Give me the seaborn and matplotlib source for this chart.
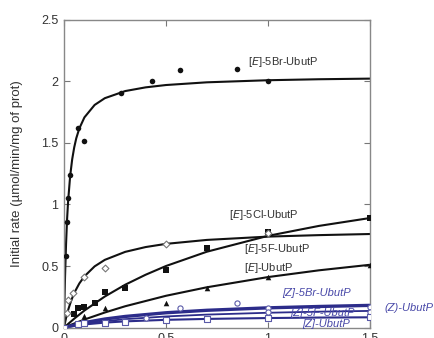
import numpy as np
import pandas as pd
import matplotlib.pyplot as plt
import seaborn as sns

# measured points (substrate conc, initial rate)
br_x = [0, 0.008, 0.015, 0.02, 0.03, 0.07, 0.1, 0.28, 0.43, 0.57, 0.85, 1.0]
br_y = [0, 0.58, 0.86, 1.05, 1.24, 1.62, 1.52, 1.91, 2.0, 2.09, 2.1, 2.0]
cl_x = [0, 0.05, 0.07, 0.1, 0.15, 0.2, 0.3, 0.5, 0.7, 1.0, 1.5]
cl_y = [0, 0.11, 0.16, 0.17, 0.2, 0.29, 0.32, 0.47, 0.65, 0.78, 0.89]
f_x = [0, 0.015, 0.02, 0.045, 0.1, 0.2, 0.5, 1.0]
f_y = [0, 0.12, 0.22, 0.28, 0.41, 0.48, 0.68, 0.77]
e_x = [0, 0.1, 0.2, 0.5, 0.7, 1.0, 1.5]
e_y = [0, 0.09, 0.16, 0.2, 0.32, 0.41, 0.51]
zbr_x = [0, 0.57, 0.85, 1.0, 1.5]
zbr_y = [0, 0.16, 0.2, 0.16, 0.17]
zf_x = [0, 0.4, 1.0, 1.5]
zf_y = [0, 0.08, 0.13, 0.13]
z_x = [0, 0.07, 0.1, 0.2, 0.3, 0.5, 0.7, 1.0, 1.5]
z_y = [0, 0.03, 0.035, 0.04, 0.045, 0.06, 0.07, 0.08, 0.085]

# fitted curves
br_cx = [0, 0.0025, 0.005, 0.01, 0.015, 0.02, 0.03, 0.04, 0.05, 0.06, 0.075, 0.1, 0.15, 0.2, 0.3, 0.4, 0.5, 0.7, 1.0, 1.25, 1.5]
br_cy = [0, 0.23, 0.41, 0.68, 0.88, 1.025, 1.23, 1.367, 1.464, 1.538, 1.618, 1.708, 1.809, 1.864, 1.922, 1.952, 1.971, 1.993, 2.01, 2.018, 2.023]
cl_cx = [0, 0.05, 0.1, 0.2, 0.3, 0.4, 0.5, 0.7, 1.0, 1.25, 1.5]
cl_cy = [0, 0.072, 0.138, 0.252, 0.348, 0.429, 0.5, 0.616, 0.745, 0.826, 0.89]
f_cx = [0, 0.01, 0.02, 0.035, 0.05, 0.075, 0.1, 0.15, 0.2, 0.3, 0.4, 0.5, 0.7, 1.0, 1.25, 1.5]
f_cy = [0, 0.078, 0.142, 0.218, 0.281, 0.358, 0.416, 0.497, 0.55, 0.615, 0.654, 0.68, 0.712, 0.739, 0.751, 0.76]
e_cx = [0, 0.1, 0.2, 0.3, 0.5, 0.7, 1.0, 1.25, 1.5]
e_cy = [0, 0.065, 0.122, 0.173, 0.258, 0.327, 0.41, 0.465, 0.51]
zbr_cx = [0, 0.1, 0.2, 0.3, 0.5, 0.7, 1.0, 1.25, 1.5]
zbr_cy = [0, 0.04, 0.069, 0.09, 0.12, 0.14, 0.16, 0.171, 0.18]
zf_cx = [0, 0.1, 0.2, 0.3, 0.5, 0.7, 1.0, 1.25, 1.5]
zf_cy = [0, 0.03, 0.051, 0.068, 0.09, 0.105, 0.12, 0.129, 0.135]
z_cx = [0, 0.1, 0.2, 0.3, 0.5, 0.7, 1.0, 1.25, 1.5]
z_cy = [0, 0.025, 0.04, 0.05, 0.0625, 0.07, 0.077, 0.081, 0.083]

sns.set_style("ticks")
plt.rcParams['font.family'] = ['Liberation Sans', 'DejaVu Sans']

fig = plt.figure(figsize=(4.34, 3.38), dpi=100)
ax = fig.add_axes([0.1475, 0.031, 0.705, 0.91])

black = '#111111'
blue = '#2c2c8a'

# curves
sns.lineplot(x=br_cx, y=br_cy, ax=ax, color=black, lw=1.5, sort=False)
sns.lineplot(x=cl_cx, y=cl_cy, ax=ax, color=black, lw=1.5, sort=False)
sns.lineplot(x=f_cx, y=f_cy, ax=ax, color=black, lw=1.5, sort=False)
sns.lineplot(x=e_cx, y=e_cy, ax=ax, color=black, lw=1.5, sort=False)
sns.lineplot(x=zbr_cx, y=zbr_cy, ax=ax, color=blue, lw=2.4, sort=False)
sns.lineplot(x=zf_cx, y=zf_cy, ax=ax, color=blue, lw=1.3, sort=False)
sns.lineplot(x=z_cx, y=z_cy, ax=ax, color=blue, lw=1.5, sort=False)

# points
sns.scatterplot(x=br_x, y=br_y, ax=ax, color=black, marker='o', s=16, linewidth=0, zorder=5)
sns.scatterplot(x=cl_x, y=cl_y, ax=ax, color=black, marker='s', s=16, linewidth=0, zorder=5)
sns.scatterplot(x=f_x, y=f_y, ax=ax, facecolor='white', edgecolor='#777777', marker='D', s=12, linewidth=0.8, zorder=5)
sns.scatterplot(x=e_x, y=e_y, ax=ax, color=black, marker='^', s=16, linewidth=0, zorder=5)
sns.scatterplot(x=zbr_x, y=zbr_y, ax=ax, facecolor='white', edgecolor='#5a5aa8', marker='o', s=14, linewidth=0.8, zorder=5)
sns.scatterplot(x=zf_x, y=zf_y, ax=ax, facecolor='white', edgecolor='#5a5aa8', marker='o', s=14, linewidth=0.8, zorder=5)
sns.scatterplot(x=z_x, y=z_y, ax=ax, facecolor='white', edgecolor='#5a5aa8', marker='s', s=14, linewidth=0.8, zorder=5)

# series labels
lab = dict(fontsize=8, color='#333333', va='center', ha='left')
ax.text(0.90, 2.16, r'[$E$]-5Br-UbutP', **lab)
ax.text(0.81, 0.915, r'[$E$]-5Cl-UbutP', **lab)
ax.text(0.88, 0.64, r'[$E$]-5F-UbutP', **lab)
ax.text(0.88, 0.48, r'[$E$]-UbutP', **lab)
zlab = dict(fontsize=8, color='#4848a8', va='center', ha='left', style='italic')
ax.text(1.07, 0.28, '[Z]-5Br-UbutP', **zlab)
ax.text(1.11, 0.12, '[Z]-5F-UbutP', **zlab)
ax.text(1.17, 0.03, '[Z]-UbutP', **zlab)
ax.text(1.57, 0.16, '(Z)-UbutP', clip_on=False, **zlab)

ax.set_xlim(0, 1.5)
ax.set_ylim(0, 2.5)
ax.set_xticks([0, 0.5, 1, 1.5])
ax.set_xticklabels(['0', '0.5', '1', '1.5'])
ax.set_yticks([0, 0.5, 1, 1.5, 2, 2.5])
ax.set_yticklabels(['0', '0.5', '1', '1.5', '2', '2.5'])
ax.tick_params(direction='in', length=4, width=0.8, color='#777777', labelsize=9,
               labelcolor='#333333', top=True, right=True, pad=4)
for sp in ax.spines.values():
    sp.set_visible(True)
    sp.set_color('#888888')
    sp.set_linewidth(1)

ax.set_ylabel('Initial rate (µmol/min/mg of prot)', fontsize=9.5, color='#333333')
ax.yaxis.set_label_coords(-0.135, 0.5)
ax.set_xlabel('')

fig.savefig('out.png', dpi=100, facecolor='white')
